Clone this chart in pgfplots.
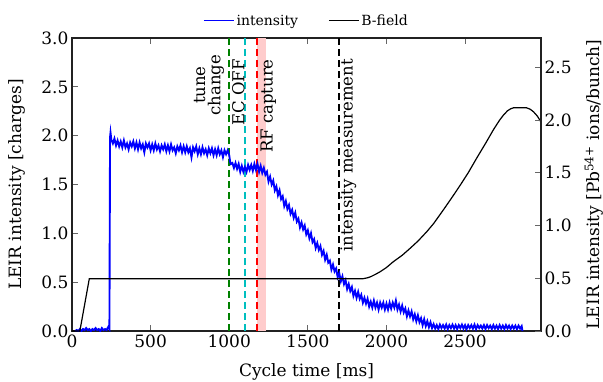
\documentclass[border=0pt]{standalone}
\usepackage{pgfplots}
\pgfplotsset{compat=1.18}
\usepackage{fontspec}
\setmainfont{DejaVu Serif}
\definecolor{mgreen}{rgb}{0,0.5,0}
\definecolor{mcyan}{rgb}{0,0.75,0.75}
\definecolor{framec}{rgb}{0.13,0.13,0.13}
\definecolor{tickc}{rgb}{0.4,0.4,0.4}
\definecolor{bandc}{rgb}{1,0.8,0.8}
\newcommand{\fs}{\fontsize{17}{20}\selectfont}
\newcommand{\fa}{\fontsize{16.5}{19}\selectfont}
\pgfplotsset{
  every tick label/.append style={font=\fs},
  /pgf/number format/assume math mode=true,
}
\begin{document}
\begin{tikzpicture}
\path[use as bounding box] (-72pt,-50pt) rectangle (531pt,331pt);
\begin{axis}[
  at={(0pt,0pt)}, anchor=south west,
  scale only axis, width=469pt, height=293pt,
  xmin=0, xmax=2983, ymin=0, ymax=3,
  axis line style={framec, line width=1.3pt},
  tick style={tickc, line width=0.9pt},
  major tick length=6pt,
  tick align=inside,
  xtick={0,500,1000,1500,2000,2500},
  xtick pos=both,
  xticklabel pos=bottom,
  ytick={0,0.5,1,1.5,2,2.5,3},
  ytick pos=left,
  yticklabel style={/pgf/number format/.cd, fixed, fixed zerofill, precision=1},
  xticklabel style={/pgf/number format/1000 sep={}},
  scaled y ticks=false, scaled x ticks=false,
  xlabel={Cycle time [ms]},
  xlabel style={font=\fs, at={(axis description cs:0.5,0)}, anchor=center, yshift=-41pt},
  ylabel={LEIR intensity [charges]},
  ylabel style={font=\fs, at={(axis description cs:-0.117,0.5)}, anchor=center},
  legend style={at={(axis description cs:0.5,1)}, anchor=south, yshift=7pt,
    draw=none, fill=none, font=\fontsize{14}{16}\selectfont,
    /tikz/every even column/.append style={column sep=28pt}},
  legend columns=2,
  legend image code/.code={\draw[#1] (0pt,0pt) -- (30pt,0pt);},
  clip=true,
]
\addlegendimage{blue, line width=1.3pt}
\addlegendentry{intensity}
\addlegendimage{black, line width=1.3pt}
\addlegendentry{B-field}
% RF capture band
\addplot[draw=none, fill=bandc, forget plot] coordinates {(1175,0) (1175,3) (1235,3) (1235,0)} -- cycle;
% vertical markers
\addplot[mgreen, line width=2pt, dash pattern=on 7pt off 4pt, forget plot] coordinates {(1000,0) (1000,3)};
\addplot[mcyan, line width=2pt, dash pattern=on 7pt off 4pt, forget plot] coordinates {(1100,0) (1100,3)};
\addplot[red, line width=2pt, dash pattern=on 7pt off 4pt, forget plot] coordinates {(1175,0) (1175,3)};
\addplot[black, line width=2pt, dash pattern=on 7pt off 4pt, forget plot] coordinates {(1700,0) (1700,3)};
% intensity
\addplot[blue, line width=1.9pt, forget plot] coordinates {
(20,0.0) (30,0.01) (40,0.0) (50,0.02) (60,0.0) (70,0.02) (80,0.01) (90,0.03) (100,0.01) (110,0.02)
(120,0.0) (130,0.02) (140,0.01) (150,0.03) (160,0.01) (170,0.02) (180,0.0) (190,0.03) (200,0.01)
(210,0.02) (220,0.01) (230,0.04) (238,0.02) (242,1.98) (245,2.03) (250,1.96) (260,1.92) (270,1.97)
(280,1.90) (290,1.95) (300,1.89)
(310,1.94) (320,1.88) (330,1.95) (340,1.88) (350,1.92) (360,1.86) (370,1.93) (380,1.89) (390,1.94) (400,1.87)
(410,1.93) (420,1.86) (430,1.93) (440,1.87) (450,1.91) (460,1.83) (470,1.92) (480,1.88) (490,1.92) (500,1.85)
(510,1.91) (520,1.85) (530,1.92) (540,1.86) (550,1.90) (560,1.84) (570,1.90) (580,1.86) (590,1.91) (600,1.84)
(610,1.90) (620,1.84) (630,1.91) (640,1.85) (650,1.88) (660,1.82) (670,1.89) (680,1.85) (690,1.90) (700,1.83)
(710,1.89) (720,1.83) (730,1.89) (740,1.83) (750,1.87) (760,1.78) (770,1.88) (780,1.84) (790,1.89) (800,1.81)
(810,1.87) (820,1.81) (830,1.88) (840,1.82) (850,1.86) (860,1.80) (870,1.87) (880,1.82) (890,1.87) (900,1.80)
(910,1.86) (920,1.80) (930,1.87) (940,1.81) (950,1.85) (960,1.78) (970,1.85) (980,1.81) (990,1.85)
(1000,1.80) (1005,1.74) (1010,1.71) (1020,1.72) (1030,1.67) (1040,1.72) (1050,1.66) (1060,1.71) (1070,1.63)
(1080,1.69) (1090,1.63) (1100,1.68) (1110,1.63) (1120,1.70) (1130,1.65) (1140,1.70) (1150,1.64) (1160,1.71)
(1170,1.65) (1180,1.71) (1190,1.63) (1200,1.69) (1210,1.62) (1220,1.67) (1230,1.60) (1240,1.63)
(1250,1.53) (1260,1.58) (1270,1.50) (1280,1.54) (1290,1.44) (1300,1.48) (1310,1.39) (1320,1.44) (1330,1.35)
(1340,1.38) (1350,1.28) (1360,1.33) (1370,1.25)
(1380,1.29) (1390,1.20) (1400,1.24) (1410,1.16) (1420,1.21) (1430,1.12) (1440,1.15) (1450,1.06) (1460,1.11)
(1470,1.04) (1480,1.08) (1490,0.99) (1500,1.03) (1510,0.95) (1520,1.00) (1530,0.91) (1540,0.94) (1550,0.85)
(1560,0.90) (1570,0.83) (1580,0.87)
(1590,0.78) (1600,0.82) (1610,0.73) (1620,0.78) (1630,0.70) (1640,0.72) (1650,0.63) (1660,0.68) (1670,0.61)
(1680,0.64) (1690,0.55)
(1700,0.59) (1710,0.51) (1720,0.56) (1730,0.48) (1740,0.52) (1750,0.43) (1760,0.48) (1770,0.41) (1780,0.45) (1790,0.36)
(1800,0.41) (1810,0.34) (1820,0.40) (1830,0.33) (1840,0.37) (1850,0.29) (1860,0.34) (1870,0.28) (1880,0.33)
(1890,0.25) (1900,0.30)
(1910,0.24) (1920,0.31) (1930,0.24) (1940,0.29) (1950,0.22) (1960,0.29) (1970,0.24) (1980,0.29) (1990,0.22)
(2000,0.28) (2010,0.22) (2020,0.29) (2030,0.23) (2040,0.29) (2050,0.24) (2060,0.31) (2070,0.22)
(2080,0.27) (2090,0.20) (2100,0.26) (2110,0.19) (2120,0.23) (2130,0.15) (2140,0.21) (2150,0.15) (2160,0.20)
(2170,0.12) (2180,0.17) (2190,0.10) (2200,0.16) (2210,0.09) (2220,0.13)
(2230,0.06) (2240,0.12) (2250,0.05) (2260,0.10) (2270,0.04) (2280,0.09) (2290,0.03) (2300,0.07)
(2310,0.025) (2320,0.06) (2330,0.02) (2340,0.065) (2350,0.03) (2360,0.06) (2370,0.025) (2380,0.065) (2390,0.02)
(2400,0.06) (2410,0.03) (2420,0.065) (2430,0.025) (2440,0.06) (2450,0.02) (2460,0.06) (2470,0.03) (2480,0.065)
(2490,0.025) (2500,0.06) (2510,0.02) (2520,0.06) (2530,0.03) (2540,0.06) (2550,0.025) (2560,0.065) (2570,0.02)
(2580,0.06) (2590,0.03) (2600,0.055) (2610,0.025) (2620,0.06) (2630,0.02) (2640,0.06) (2650,0.03) (2660,0.055)
(2670,0.02) (2680,0.06) (2690,0.025) (2700,0.055) (2710,0.02) (2720,0.06) (2730,0.025) (2740,0.055) (2750,0.02)
(2760,0.06) (2770,0.025) (2780,0.055) (2790,0.02) (2800,0.055) (2810,0.025) (2820,0.055) (2830,0.02) (2840,0.055)
(2850,0.025) (2860,0.05) (2865,0.0)
};
% B-field
\addplot[black, line width=1.2pt, forget plot] coordinates {
(0,0) (50,0) (110,0.535) (1850,0.535) (1880,0.545) (1900,0.556) (1930,0.58) (1960,0.607) (2000,0.65)
(2044,0.71) (2100,0.775) (2150,0.846) (2200,0.92) (2256,1.016) (2300,1.10) (2362,1.24) (2420,1.375)
(2468,1.49) (2520,1.62) (2574,1.77) (2630,1.92) (2680,2.06) (2720,2.16) (2744,2.21) (2770,2.255)
(2790,2.275) (2807,2.285) (2892,2.285) (2915,2.27) (2935,2.245) (2960,2.20) (2983,2.14)
};
% annotations
\node[rotate=90, anchor=center, inner sep=0pt, font=\fa] at (axis cs:812,2.518) {tune};
\node[rotate=90, anchor=center, inner sep=0pt, font=\fa] at (axis cs:915,2.518) {change};
\node[rotate=90, anchor=east, inner sep=0pt, font=\fa] at (axis cs:1058,2.784) {EC OFF};
\node[rotate=90, anchor=east, inner sep=0pt, font=\fa] at (axis cs:1249,2.784) {RF capture};
\node[rotate=90, anchor=east, inner sep=0pt, font=\fa] at (axis cs:1758,2.784) {intensity measurement};
\node[anchor=south west, inner sep=0pt, font=\fs] at (axis description cs:0,1) [yshift=3pt] {1e10};
\end{axis}
\begin{axis}[
  at={(0pt,0pt)}, anchor=south west,
  scale only axis, width=469pt, height=293pt,
  xmin=0, xmax=2983, ymin=0, ymax=2.7778,
  axis y line*=right, hide x axis,
  axis line style={framec, line width=1.3pt},
  tick style={tickc, line width=0.9pt},
  major tick length=6pt,
  tick align=inside,
  ytick={0,0.5,1,1.5,2,2.5},
  yticklabel style={/pgf/number format/.cd, fixed, fixed zerofill, precision=1},
  scaled y ticks=false,
  ylabel={LEIR intensity [Pb\textsuperscript{54+} ions/bunch]},
  ylabel style={font=\fs, at={(axis description cs:1.113,0.5)}, anchor=center},
]
\node[anchor=south east, inner sep=0pt, font=\fs] at (axis description cs:1,1) [yshift=3pt] {1e8};
\end{axis}
\end{tikzpicture}
\end{document}
